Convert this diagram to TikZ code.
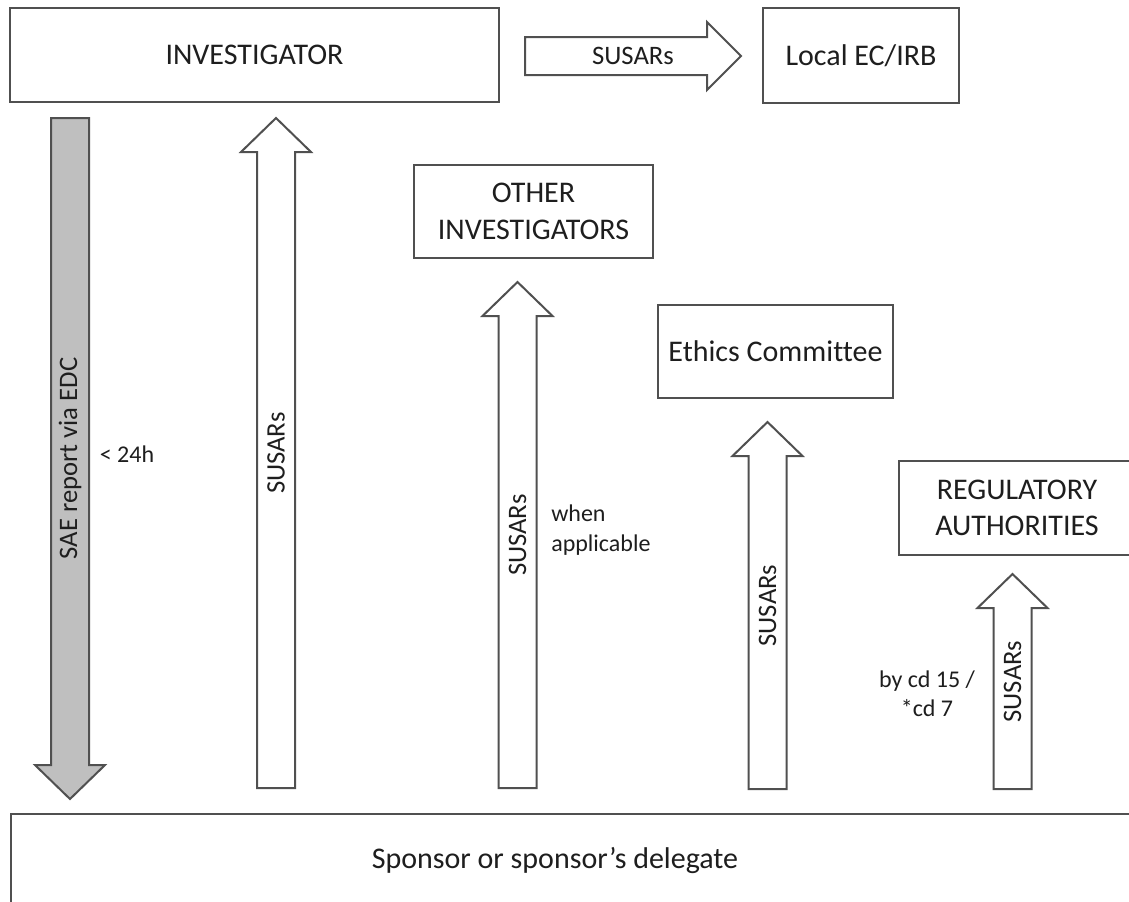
\documentclass[tikz,border=0pt]{standalone}
\usepackage{fontspec}
\setmainfont{Carlito}[Ligatures=NoCommon]
\usetikzlibrary{calc}
\definecolor{linecol}{HTML}{505050}
\definecolor{textcol}{HTML}{1E1E1E}
\definecolor{grayfill}{HTML}{BFBFBF}
\newcommand\blockup[3][]{%
  \draw[blockarrow,#1] ($(#2)+(-19,0)$) -- ($(#3)+(-19,34)$) -- ($(#3)+(-35,34)$) -- (#3)
    -- ($(#3)+(35,34)$) -- ($(#3)+(19,34)$) -- ($(#2)+(19,0)$) -- cycle;}
\newcommand\blockdown[3][]{%
  \draw[blockarrow,#1] ($(#2)+(-19,0)$) -- ($(#3)+(-19,-34)$) -- ($(#3)+(-35,-34)$) -- (#3)
    -- ($(#3)+(35,-34)$) -- ($(#3)+(19,-34)$) -- ($(#2)+(19,0)$) -- cycle;}
\newcommand\blockright[3][]{%
  \draw[blockarrow,#1] ($(#2)+(0,-19)$) -- ($(#3)+(-34,-19)$) -- ($(#3)+(-34,-34)$) -- (#3)
    -- ($(#3)+(-34,34)$) -- ($(#3)+(-34,19)$) -- ($(#2)+(0,19)$) -- cycle;}
\begin{document}
\begin{tikzpicture}[x=0.75pt,y=-0.75pt,
  box/.style={draw=linecol, line width=1.5pt, fill=white, inner sep=0pt, align=center,
    text=textcol, font=\fontsize{22.5}{27.5}\selectfont},
  blockarrow/.style={draw=linecol, line width=1.5pt, line join=miter, fill=white},
  arrlbl/.style={text=textcol, inner sep=0pt, font=\fontsize{20}{24}\selectfont},
  note/.style={text=textcol, inner sep=0pt, font=\fontsize{18}{22}\selectfont}]
\clip (0,0) rectangle (1129,901);
\fill[white] (0,0) rectangle (1129,901);

% boxes
\node[box, minimum width=489*0.75pt, minimum height=94*0.75pt] (inv) at (254.5,55) {INVESTIGATOR};
\node[box, minimum width=196*0.75pt, minimum height=95*0.75pt] (local) at (861,55.5) {Local EC/IRB};
\node[box, minimum width=239*0.75pt, minimum height=93*0.75pt] (other) at (533.5,211.5) {OTHER\\INVESTIGATORS};
\node[box, minimum width=235*0.75pt, minimum height=93*0.75pt] (ethics) at (775.5,351.5) {Ethics Committee};
\node[box, minimum width=236*0.75pt, minimum height=94*0.75pt] (reg) at (1017,508) {REGULATORY\\AUTHORITIES};
\node[box, anchor=north west, minimum width=1140*0.75pt, minimum height=120*0.75pt] (sponsor) at (10,813) {};
\node[text=textcol, inner sep=0pt, font=\fontsize{22.5}{27.5}\selectfont] (sptext) at (555,860) {Sponsor or sponsor’s delegate};

% arrow end points
\coordinate (hs) at (525,56);   \coordinate (he) at (741,56);
\coordinate (gs) at (70,118);   \coordinate (ge) at (70,799);
\coordinate (a1s) at (276,788); \coordinate (a1e) at (276,118);
\coordinate (a2s) at (517.5,788); \coordinate (a2e) at (517.5,282);
\coordinate (a3s) at (767.5,789); \coordinate (a3e) at (767.5,422);
\coordinate (a4s) at (1012.5,789); \coordinate (a4e) at (1012.5,574);

\blockright{hs}{he}
\blockdown[fill=grayfill]{gs}{ge}
\blockup{a1s}{a1e}
\blockup{a2s}{a2e}
\blockup{a3s}{a3e}
\blockup{a4s}{a4e}

% arrow labels
\node[arrlbl] (hl) at (633,56) {SUSARs};
\node[arrlbl, rotate=90] (gl) at (70,458.5) {SAE report via EDC};
\node[arrlbl, rotate=90] (l1) at (276,453) {SUSARs};
\node[arrlbl, rotate=90] (l2) at (517.5,535) {SUSARs};
\node[arrlbl, rotate=90] (l3) at (767.5,605.5) {SUSARs};
\node[arrlbl, rotate=90] (l4) at (1012.5,681.5) {SUSARs};

% notes
\node[note] (n24) at (127,454) {< 24h};
\node[note, align=left, anchor=west] (nwhen) at (551,530) {when\\applicable};
\node[note, align=center] (ncd) at (927,694) {by cd 15 /\\*cd 7};
\end{tikzpicture}
\end{document}
